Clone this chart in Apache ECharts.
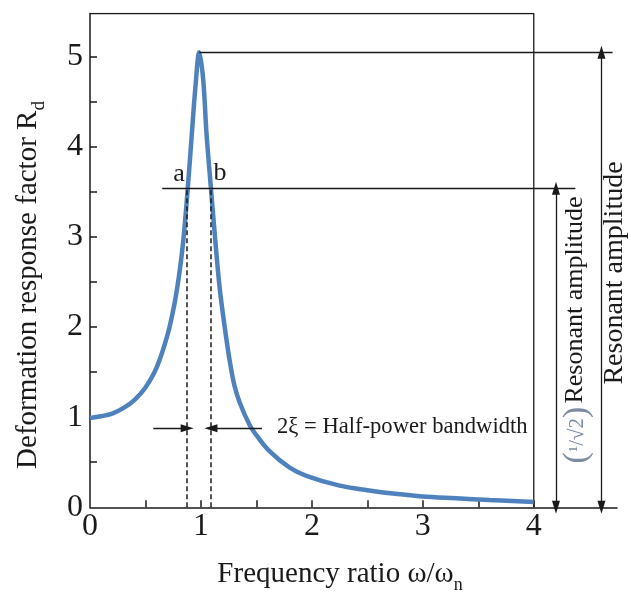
<!DOCTYPE html>
<html><head><meta charset="utf-8">
<script src="https://cdn.jsdelivr.net/npm/echarts@6/dist/echarts.min.js"></script>
<style>html,body{margin:0;padding:0;background:#fff}#c{width:631px;height:592px}</style>
</head><body><div id="c"></div>
<script>
// frequency ratio (x) and deformation response factor (y)
const ratio = [0, 0.1, 0.2, 0.3, 0.4, 0.5, 0.6, 0.7, 0.76, 0.8, 0.84, 0.88, 0.92, 0.95, 0.985, 1.02, 1.05, 1.09, 1.13, 1.17, 1.22, 1.26, 1.3, 1.35, 1.44, 1.5, 1.62, 1.8, 1.95, 2.25, 2.5, 2.75, 3.0, 3.3, 3.6, 4.0];
const rd    = [0.99, 1.01, 1.04, 1.10, 1.19, 1.33, 1.55, 1.92, 2.25, 2.55, 2.95, 3.52, 4.18, 4.66, 5.05, 4.75, 4.15, 3.54, 2.95, 2.42, 1.95, 1.62, 1.36, 1.16, 0.91, 0.80, 0.62, 0.44, 0.35, 0.24, 0.19, 0.15, 0.12, 0.10, 0.08, 0.06];
const xLabelValues = [0, 1, 2, 3, 4];
const xTickValues = [0.5, 1, 1.5, 2, 2.5, 3, 3.5, 4];
const yLabelValues = [0, 1, 2, 3, 4, 5];
const yTickValues = [0.5, 1, 1.5, 2, 2.5, 3, 3.5, 4, 4.5, 5];
// annotation values (data units)
const peakRatio = 0.985, peakValue = 5.05;
const halfPowerValue = 3.54;
const ratioA = 0.876, ratioB = 1.09;
const bandArrowValue = 0.877;
const bandArrowLeftStart = 0.57, bandArrowRightStart = 1.55;
const halfLineStart = 0.651, halfLineEnd = 4.375, peakLineEnd = 4.71;
const innerArrowX = 4.20, outerArrowX = 4.61;
const xMax = 4.75, yMax = 5.48, boxRight = 4;

const FF = '"Liberation Serif", "DejaVu Serif", serif';
const ink = '#1a1a1a';
const ln = {color: ink, width: 1.3, type: 'solid'};
const dash = {color: ink, width: 1.5, type: [5, 3]};
const aSize = [8, 13];

const chart = echarts.init(document.getElementById('c'));
chart.setOption({
  animation: false,
  backgroundColor: '#fff',
  grid: {left: 90, right: 14, top: 13.5, bottom: 84.7},
  xAxis: {
    type: 'value', min: 0, max: xMax,
    axisLine: {lineStyle: {color: ink, width: 1.5}},
    axisTick: {inside: true, length: 7, customValues: xTickValues, lineStyle: {color: ink, width: 1.5}},
    axisLabel: {customValues: xLabelValues, fontSize: 32, fontFamily: FF, color: ink, margin: 3},
    splitLine: {show: false}
  },
  yAxis: {
    type: 'value', min: 0, max: yMax,
    axisLine: {show: true, lineStyle: {color: ink, width: 1.5}},
    axisTick: {show: true, inside: true, length: 7, customValues: yTickValues, lineStyle: {color: ink, width: 1.5}},
    axisLabel: {customValues: yLabelValues, fontSize: 32, fontFamily: FF, color: ink, margin: 7},
    splitLine: {show: false}
  },
  series: [
    {
      type: 'line', data: [[0, yMax], [boxRight, yMax], [boxRight, 0]],
      showSymbol: false, silent: true, lineStyle: {color: ink, width: 1.3}, z: 1
    },
    {
      type: 'line', data: ratio.map((r, i) => [r, rd[i]]),
      showSymbol: false, smooth: 0.35, silent: true,
      lineStyle: {color: '#4f81bd', width: 4.5}, z: 3
    },
    {
      type: 'line', data: [], silent: true, z: 4,
      markLine: {
        silent: true, animation: false, label: {show: false},
        symbol: ['none', 'none'],
        data: [
          [{coord: [peakRatio, peakValue], lineStyle: ln}, {coord: [peakLineEnd, peakValue]}],
          [{coord: [halfLineStart, halfPowerValue], lineStyle: ln}, {coord: [halfLineEnd, halfPowerValue]}],
          [{coord: [ratioA, 0], lineStyle: dash}, {coord: [ratioA, halfPowerValue]}],
          [{coord: [ratioB, 0], lineStyle: dash}, {coord: [ratioB, halfPowerValue]}],
          [{coord: [bandArrowLeftStart, bandArrowValue], lineStyle: ln, symbol: 'none'}, {coord: [ratioA, bandArrowValue], symbol: 'triangle', symbolSize: aSize}],
          [{coord: [bandArrowRightStart, bandArrowValue], lineStyle: ln, symbol: 'none'}, {coord: [ratioB, bandArrowValue], symbol: 'triangle', symbolSize: aSize}],
          [{coord: [innerArrowX, 0], lineStyle: ln, symbol: 'triangle', symbolSize: aSize}, {coord: [innerArrowX, halfPowerValue], symbol: 'triangle', symbolSize: aSize}],
          [{coord: [outerArrowX, 0], lineStyle: ln, symbol: 'triangle', symbolSize: aSize}, {coord: [outerArrowX, peakValue], symbol: 'triangle', symbolSize: aSize}]
        ]
      }
    }
  ],
  graphic: [
    {type: 'text', x: 27, y: 285, rotation: Math.PI / 2,
      style: {text: '{m|Deformation response factor R}{s|d}', align: 'center', verticalAlign: 'middle', fill: ink,
        rich: {m: {fontSize: 29, fontFamily: FF, fill: ink, lineHeight: 32, verticalAlign: 'bottom'}, s: {fontSize: 19, fontFamily: FF, fill: ink, lineHeight: 32, verticalAlign: 'bottom', padding: [0, 0, -6, 0]}}}},
    {type: 'text', x: 340, y: 573,
      style: {text: '{m|Frequency ratio ω/ω}{s|n}', align: 'center', verticalAlign: 'middle', fill: ink,
        rich: {m: {fontSize: 29, fontFamily: FF, fill: ink, lineHeight: 32, verticalAlign: 'bottom'}, s: {fontSize: 18, fontFamily: FF, fill: ink, lineHeight: 32, verticalAlign: 'bottom', padding: [0, 0, -5, 0]}}}},
    {type: 'text', x: 179, y: 174, style: {text: 'a', fontSize: 26, fontFamily: FF, fill: ink, align: 'center', verticalAlign: 'middle'}},
    {type: 'text', x: 220, y: 173, style: {text: 'b', fontSize: 26, fontFamily: FF, fill: ink, align: 'center', verticalAlign: 'middle'}},
    {type: 'text', x: 277, y: 427, style: {text: '2ξ = Half-power bandwidth', fontSize: 22.6, fontFamily: FF, fill: ink, align: 'left', verticalAlign: 'middle'}},
    {type: 'text', x: 575, y: 300, rotation: Math.PI / 2,
      style: {text: 'Resonant amplitude', fontSize: 26, fontFamily: FF, fill: ink, align: 'center', verticalAlign: 'middle'}},
    {type: 'text', x: 577, y: 435, rotation: Math.PI / 2,
      style: {text: '{p|(}{f|¹/√2}{p|)}', align: 'center', verticalAlign: 'middle',
        rich: {p: {fontSize: 34, fontFamily: FF, fill: '#7d8ba0', lineHeight: 36}, f: {fontSize: 21, fontFamily: FF, fill: '#7d8ba0', lineHeight: 36}}}},
    {type: 'text', x: 615, y: 273, rotation: Math.PI / 2,
      style: {text: 'Resonant amplitude', fontSize: 28, fontFamily: FF, fill: ink, align: 'center', verticalAlign: 'middle'}}
  ]
});
</script>
</body></html>
